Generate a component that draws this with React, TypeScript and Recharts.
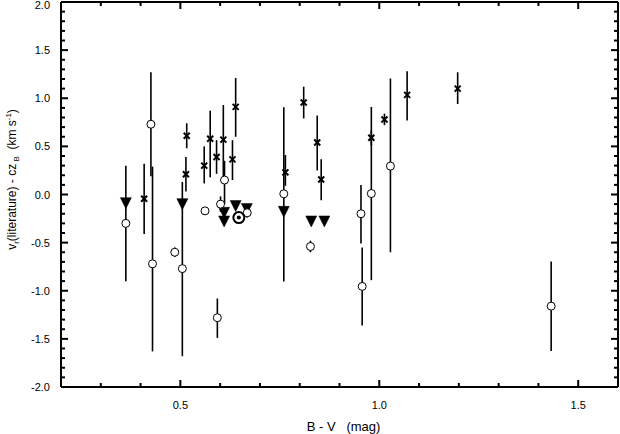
import React from 'react';
import { ScatterChart, Scatter, XAxis, YAxis, ErrorBar } from 'recharts';

// ---- data ----
// crosses: x = B-V, y = residual, errLo / errHi = error bar extents
const crossX = [0.409, 0.516, 0.514, 0.56, 0.575, 0.591, 0.608, 0.631, 0.639, 0.764, 0.81, 0.844, 0.854, 0.98, 1.013, 1.07, 1.197];
const crossY = [-0.045, 0.61, 0.21, 0.3, 0.58, 0.39, 0.57, 0.365, 0.91, 0.23, 0.955, 0.54, 0.156, 0.59, 0.78, 1.035, 1.1];
const crossErrLo = [0.365, 0.13, 0.18, 0.185, 0.4, 0.175, 0.39, 0.215, 0.31, 0.14, 0.165, 0.29, 0.216, 0.08, 0.06, 0.265, 0.16];
const crossErrHi = [0.365, 0.13, 0.18, 0.2, 0.29, 0.175, 0.36, 0.2, 0.3, 0.18, 0.165, 0.28, 0.21, 0.08, 0.06, 0.245, 0.17];

// open circles
const circleX = [0.363, 0.426, 0.43, 0.486, 0.505, 0.562, 0.593, 0.601, 0.611, 0.668, 0.76, 0.827, 0.954, 0.957, 0.98, 1.028, 1.432];
const circleY = [-0.3, 0.73, -0.72, -0.6, -0.77, -0.17, -1.28, -0.1, 0.15, -0.19, 0.007, -0.54, -0.2, -0.955, 0.01, 0.295, -1.16];
const circleErrLo = [0.6, 0.54, 0.91, 0.05, 0.91, 0, 0.21, 0.08, 0.25, 0.05, 0.91, 0.06, 0.31, 0.405, 0.9, 0.895, 0.465];
const circleErrHi = [0.6, 0.54, 1.01, 0.05, 0.9, 0, 0.2, 0.08, 0.2, 0.05, 0.9, 0.06, 0.3, 0.405, 0.9, 0.91, 0.465];

// filled down-pointing triangles (limits)
const triX = [0.363, 0.505, 0.61, 0.61, 0.639, 0.667, 0.76, 0.829, 0.862];
const triY = [-0.09, -0.1, -0.19, -0.28, -0.12, -0.15, -0.18, -0.28, -0.28];

// sun symbol
const sunX = [0.647];
const sunY = [-0.24];

// ---- axis ticks ----
const xTicks = [0.3, 0.4, 0.5, 0.6, 0.7, 0.8, 0.9, 1.0, 1.1, 1.2, 1.3, 1.4, 1.5];
const xMajorTicks = [0.5, 1.0, 1.5];
const xTickLabels = ['0.5', '1.0', '1.5'];
const yMajorTicks = [-2.0, -1.5, -1.0, -0.5, 0.0, 0.5, 1.0, 1.5, 2.0];
const yTickLabels = ['-2.0', '-1.5', '-1.0', '-0.5', '0.0', '0.5', '1.0', '1.5', '2.0'];
const yTicks: number[] = [];
for (let i = -20; i <= 20; i++) yTicks.push(i / 10);

const FONT = '"Liberation Sans", Arial, Helvetica, sans-serif';

const crossData = crossX.map((x, i) => ({ x, y: crossY[i], err: [crossErrLo[i], crossErrHi[i]] }));
const circleData = circleX.map((x, i) => ({ x, y: circleY[i], err: [circleErrLo[i], circleErrHi[i]] }));
const triData = triX.map((x, i) => ({ x, y: triY[i] }));
const sunData = sunX.map((x, i) => ({ x, y: sunY[i] }));

const majorIndex = (v: number, majors: number[]) => majors.findIndex((m) => Math.abs(m - v) < 1e-6);

const BottomTick = (props: any) => {
  const { x, y, payload } = props;
  const idx = majorIndex(payload.value, xMajorTicks);
  const len = idx >= 0 ? 7 : 4;
  return (
    <g>
      <line x1={x} x2={x} y1={y} y2={y - len} stroke="#000" strokeWidth={2} />
      {idx >= 0 && (
        <text x={x} y={y + 22} textAnchor="middle" fontSize={11} fontFamily={FONT} fill="#000">
          {xTickLabels[idx]}
        </text>
      )}
    </g>
  );
};

const TopTick = (props: any) => {
  const { x, y, payload } = props;
  const idx = majorIndex(payload.value, xMajorTicks);
  const len = idx >= 0 ? 7 : 4;
  return <line x1={x} x2={x} y1={y} y2={y + len} stroke="#000" strokeWidth={2} />;
};

const LeftTick = (props: any) => {
  const { x, y, payload } = props;
  const idx = majorIndex(payload.value, yMajorTicks);
  const len = idx >= 0 ? 7 : 4;
  return (
    <g>
      <line x1={x} x2={x + len} y1={y} y2={y} stroke="#000" strokeWidth={2} />
      {idx >= 0 && (
        <text x={x - 11} y={Math.max(y + 4, 8.5)} textAnchor="end" fontSize={11} fontFamily={FONT} fill="#000">
          {yTickLabels[idx]}
        </text>
      )}
    </g>
  );
};

const RightTick = (props: any) => {
  const { x, y, payload } = props;
  const idx = majorIndex(payload.value, yMajorTicks);
  const len = idx >= 0 ? 7 : 4;
  return <line x1={x} x2={x - len} y1={y} y2={y} stroke="#000" strokeWidth={2} />;
};

const CircleShape = (p: any) => (
  <circle cx={p.cx} cy={p.cy} r={4} fill="#fff" stroke="#000" strokeWidth={1} />
);

const CrossShape = (p: any) => {
  const s = 3;
  return (
    <g stroke="#000" strokeWidth={2}>
      <line x1={p.cx - s} y1={p.cy - s} x2={p.cx + s} y2={p.cy + s} />
      <line x1={p.cx - s} y1={p.cy + s} x2={p.cx + s} y2={p.cy - s} />
    </g>
  );
};

const TriShape = (p: any) => {
  const s = 5.5;
  return (
    <polygon
      points={`${p.cx - s},${p.cy - s} ${p.cx + s},${p.cy - s} ${p.cx},${p.cy + s}`}
      fill="#000"
      stroke="#000"
      strokeWidth={0.5}
    />
  );
};

const SunShape = (p: any) => (
  <g>
    <circle cx={p.cx} cy={p.cy} r={5.5} fill="#fff" stroke="#000" strokeWidth={2} />
    <circle cx={p.cx} cy={p.cy} r={2} fill="#000" />
  </g>
);

const YTitle = (props: any) => {
  const vb = props.viewBox || { x: 0, y: 0, width: 61, height: 385 };
  const cx = vb.x + 16;
  const cy = vb.y + vb.height / 2 - 15;
  return (
    <text
      x={cx}
      y={cy}
      transform={`rotate(-90 ${cx} ${cy})`}
      textAnchor="middle"
      fontSize={12}
      fontFamily={FONT}
      fill="#000"
      style={{ whiteSpace: 'pre' }}
    >
      <tspan>v</tspan>
      <tspan dy={3} fontSize={8}>r</tspan>
      <tspan dy={-3}>(literature) - cz</tspan>
      <tspan dy={3} fontSize={8}> B</tspan>
      <tspan dy={-3}>  (km s</tspan>
      <tspan dy={-5} fontSize={8}>-1</tspan>
      <tspan dy={5}>)</tspan>
    </text>
  );
};

const XTitle = (props: any) => {
  const vb = props.viewBox || { x: 61, y: 387, width: 557, height: 47 };
  const cx = vb.x + vb.width / 2 + 4;
  return (
    <text
      x={cx}
      y={vb.y + 44}
      textAnchor="middle"
      fontSize={13}
      fontFamily={FONT}
      fill="#000"
      style={{ whiteSpace: 'pre' }}
    >
      {'B - V   (mag)'}
    </text>
  );
};

export default function App() {
  return (
    <div style={{ position: 'absolute', left: 0, top: 0, width: 620, height: 434, background: '#fff' }}>
      <ScatterChart width={620} height={434} margin={{ top: 0, right: 0, bottom: 0, left: 0 }}>
        <XAxis
          xAxisId="b"
          type="number"
          dataKey="x"
          domain={[0.2, 1.6]}
          ticks={xTicks}
          interval={0}
          tickSize={0}
          tickMargin={0}
          tick={<BottomTick />}
          axisLine={{ stroke: '#000', strokeWidth: 2 }}
          height={47}
          allowDataOverflow
          label={<XTitle />}
        />
        <XAxis
          xAxisId="t"
          orientation="top"
          type="number"
          dataKey="x"
          domain={[0.2, 1.6]}
          ticks={xTicks}
          interval={0}
          tickSize={0}
          tickMargin={0}
          tick={<TopTick />}
          axisLine={{ stroke: '#000', strokeWidth: 2 }}
          height={2}
          allowDataOverflow
        />
        <YAxis
          yAxisId="l"
          type="number"
          dataKey="y"
          domain={[-2, 2]}
          ticks={yTicks}
          interval={0}
          tickSize={0}
          tickMargin={0}
          tick={<LeftTick />}
          axisLine={{ stroke: '#000', strokeWidth: 2 }}
          width={61}
          allowDataOverflow
          label={<YTitle />}
        />
        <YAxis
          yAxisId="r"
          orientation="right"
          type="number"
          dataKey="y"
          domain={[-2, 2]}
          ticks={yTicks}
          interval={0}
          tickSize={0}
          tickMargin={0}
          tick={<RightTick />}
          axisLine={{ stroke: '#000', strokeWidth: 2 }}
          width={2}
          allowDataOverflow
        />
        <Scatter xAxisId="b" yAxisId="l" data={crossData} shape={(p: any) => <CrossShape {...p} />} isAnimationActive={false}>
          <ErrorBar dataKey="err" direction="y" width={0} stroke="#000" strokeWidth={1.6} />
        </Scatter>
        <Scatter xAxisId="b" yAxisId="l" data={triData} shape={(p: any) => <TriShape {...p} />} isAnimationActive={false} />
        <Scatter xAxisId="b" yAxisId="l" data={circleData} shape={(p: any) => <CircleShape {...p} />} isAnimationActive={false}>
          <ErrorBar dataKey="err" direction="y" width={0} stroke="#000" strokeWidth={1.6} />
        </Scatter>
        <Scatter xAxisId="t" yAxisId="r" data={sunData} shape={(p: any) => <SunShape {...p} />} isAnimationActive={false} />
      </ScatterChart>
    </div>
  );
}
